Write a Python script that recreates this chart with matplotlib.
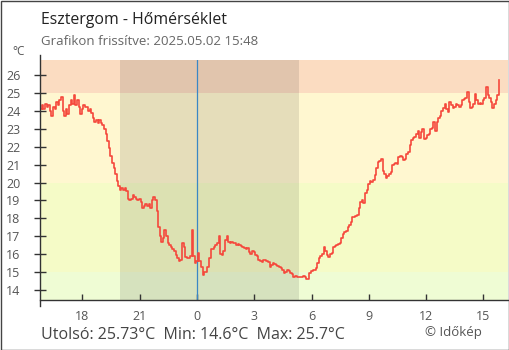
import numpy as np
import matplotlib
matplotlib.use("Agg")
import matplotlib.pyplot as plt
from matplotlib.patches import Rectangle

plt.rcParams["font.family"] = ["Open Sans", "DejaVu Sans"]

# 5 perces mérések, 2025.05.01 15:48 -> 2025.05.02 15:48 (órák, előző nap éjfélétől)
start_hour = 15.8
step_hour = 5 / 60
temps = [
    24.1, 24.3, 24.1, 24.4, 24.2, 24.3, 24.0, 23.7, 24.2, 24.1,
    24.5, 24.3, 24.6, 24.8, 24.0, 23.7, 24.1, 23.8, 24.3, 24.6,
    24.4, 24.9, 24.3, 24.6, 24.2, 23.8, 24.1, 24.3, 24.2, 24.2,
    24.0, 24.1, 23.9, 23.6, 23.4, 23.5, 23.3, 23.5, 23.3, 23.2,
    23.0, 22.7, 22.3, 21.9, 21.5, 21.1, 20.8, 20.5, 20.1, 19.8,
    19.6, 19.7, 19.6, 19.7, 19.5, 19.1, 19.0, 19.1, 19.3, 19.2,
    19.1, 19.0, 19.1, 18.9, 18.6, 18.7, 18.8, 18.7, 18.8, 18.6,
    19.0, 19.2, 19.0, 18.4, 17.5, 17.0, 16.7, 16.9, 17.35, 17.0,
    16.6, 16.5, 16.4, 16.3, 16.2, 15.95, 15.8, 15.6, 15.7, 16.6,
    16.4, 15.85, 15.8, 15.8, 15.9, 17.35, 15.9, 15.5, 15.6, 16.05,
    15.6, 15.3, 14.85, 15.0, 15.0, 15.3, 15.8, 16.3, 16.3, 16.4,
    16.5, 16.6, 17.0, 16.0, 15.95, 16.2, 16.8, 17.0, 16.7, 16.65,
    16.7, 16.6, 16.6, 16.5, 16.55, 16.5, 16.45, 16.4, 16.35, 16.3,
    16.35, 16.1, 16.0, 16.15, 16.1, 15.95, 15.9, 15.7, 15.6, 15.55,
    15.7, 15.65, 15.6, 15.55, 15.3, 15.4, 15.5, 15.45, 15.4, 15.35,
    15.3, 15.2, 15.1, 14.95, 15.0, 15.1, 15.05, 14.95, 14.9, 14.75,
    14.8, 14.7, 14.75, 14.7, 14.75, 14.8, 14.75, 14.6, 14.6, 14.95,
    15.05, 15.1, 15.1, 15.2, 15.5, 15.8, 15.9, 16.0, 16.4, 16.2,
    15.95, 15.85, 16.0, 16.05, 16.4, 16.45, 16.5, 16.55, 16.6, 16.9,
    17.1, 17.25, 17.3, 17.5, 17.6, 17.8, 18.1, 18.05, 18.15, 18.2,
    18.6, 18.9, 19.0, 18.85, 19.4, 19.6, 19.9, 20.1, 20.05, 20.15,
    20.4, 20.8, 21.15, 21.2, 21.3, 20.65, 20.45, 20.25, 20.35, 20.5,
    20.6, 21.0, 21.05, 21.1, 21.05, 21.4, 21.5, 21.4, 21.25, 21.3,
    21.6, 21.7, 22.1, 22.4, 22.5, 22.55, 22.7, 22.9, 22.5, 22.8,
    23.0, 22.45, 22.5, 22.65, 22.7, 23.0, 23.05, 23.4, 22.85, 23.4,
    23.6, 23.7, 24.0, 24.15, 24.4, 24.1, 23.95, 24.5, 24.3, 24.15,
    24.2, 24.4, 24.35, 24.2, 24.3, 24.6, 24.65, 24.7, 25.05, 24.5,
    24.15, 24.2, 24.4, 24.95, 24.6, 24.4, 24.45, 24.4, 24.6, 24.7,
    25.35, 24.9, 24.7, 24.5, 24.15, 24.4, 24.6, 24.9, 25.73,
]
hours = start_hour + step_hour * np.arange(len(temps))

# hőmérsékleti sávok (alsó, felső határ, szín)
bands = [
    (13.0, 15.0, "#effcd4"),
    (15.0, 20.0, "#f5fbc7"),
    (20.0, 25.0, "#fff7d0"),
    (25.0, 28.0, "#fbdcc1"),
]
sunset, sunrise = 19.97, 29.36   # 19:58 és 05:22
midnight = 24.0

xticks = [18, 21, 24, 27, 30, 33, 36, 39]
xlabels = ["18", "21", "0", "3", "6", "9", "12", "15"]
yticks = list(range(14, 27))

W, H = 510, 350
fig = plt.figure(figsize=(W / 100, H / 100), dpi=100)
ax = fig.add_axes([40.3 / W, 50 / H, 468.2 / W, 240 / H])
ax.set_xlim(15.8, 40.31)
ax.set_ylim(13.44, 26.84)

for lo, hi, col in bands:
    ax.axhspan(lo, hi, color=col, lw=0, zorder=0)
ax.axvspan(sunset, sunrise, color="black", alpha=0.1, lw=0, zorder=1)
ax.axvline(midnight, color="#3a87c5", lw=0.9, zorder=2)

ax.plot(hours, temps, color="#f5483c", lw=1.2, drawstyle="steps-post",
        zorder=3)

# tengelyek
for s in ["top", "right", "left"]:
    ax.spines[s].set_visible(False)
ax.spines["bottom"].set_color("#333333")
ax.spines["bottom"].set_linewidth(1)
ax.plot([0, 0], [-6 / 240, 1 + 5 / 240], transform=ax.transAxes,
        color="#333333", lw=1, clip_on=False, zorder=4)

ax.set_yticks(yticks)
ax.set_xticks(xticks)
ax.set_xticklabels(xlabels)
ax.tick_params(axis="y", direction="inout", length=8.6, width=1,
               color="#333333", pad=10, labelsize=9, labelcolor="#555555")
ax.tick_params(axis="x", direction="in", length=4.3, width=1,
               color="#333333", pad=7.5, labelsize=9, labelcolor="#555555")

# feliratok
fig.text(40.7 / W, 1 - 24 / H, "Esztergom - Hőmérséklet", fontsize=11.4,
         color="#222222", va="baseline")
fig.text(40.7 / W, 1 - 45 / H, "Grafikon frissítve: 2025.05.02 15:48",
         fontsize=9.5, color="#666666", va="baseline")
fig.text(12.7 / W, 1 - 55 / H, "°C", fontsize=8.5, color="#555555",
         va="baseline")
fig.text(40.7 / W, 1 - 339.3 / H,
         "Utolsó: 25.73°C  Min: 14.6°C  Max: 25.7°C", fontsize=11.5,
         color="#444444", va="baseline")
fig.text(425 / W, 1 - 336 / H, "© Időkép", fontsize=9.5, color="#555555",
         va="baseline")

# keret a kép körül
fig.patches.append(Rectangle((0.5 / W, 0.5 / H), 1 - 1 / W, 1 - 1 / H,
                             transform=fig.transFigure, fill=False,
                             edgecolor="#444444", lw=1))

fig.savefig("out.png", dpi=100, facecolor="white")
